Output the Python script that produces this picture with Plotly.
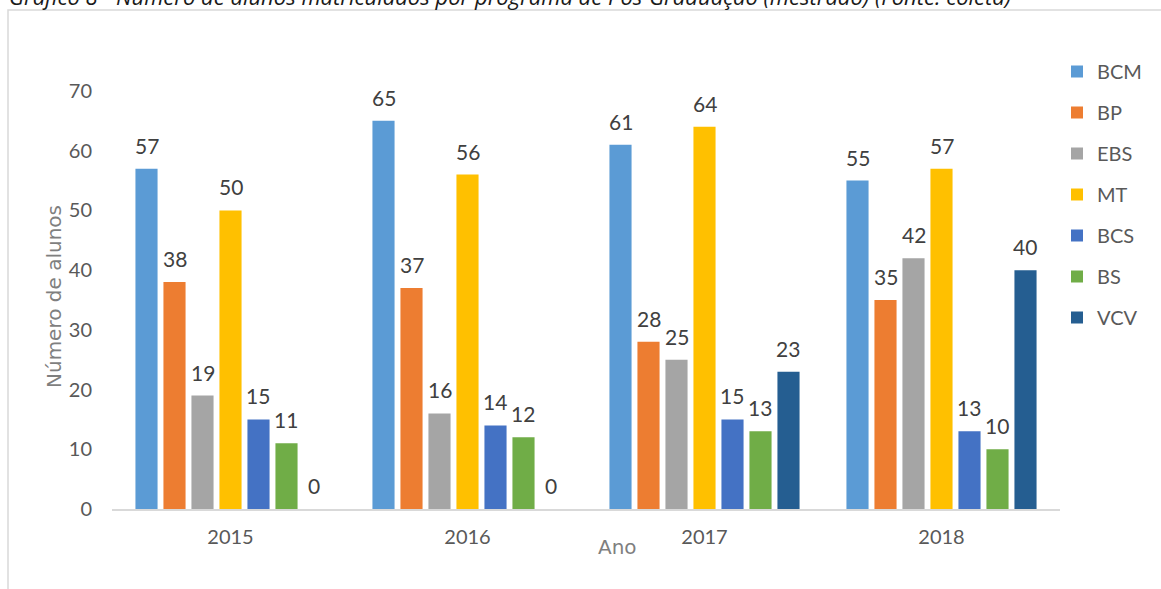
import plotly.graph_objects as go

years = ["2015", "2016", "2017", "2018"]
programs = ["BCM", "BP", "EBS", "MT", "BCS", "BS", "VCV"]
bcm = [57, 65, 61, 55]
bp = [38, 37, 28, 35]
ebs = [19, 16, 25, 42]
mt = [50, 56, 64, 57]
bcs = [15, 14, 15, 13]
bs = [11, 12, 13, 10]
vcv = [0, 0, 23, 40]
y_ticks = [0, 10, 20, 30, 40, 50, 60, 70]

series = [bcm, bp, ebs, mt, bcs, bs, vcv]
colors = ["#5B9BD5", "#ED7D31", "#A5A5A5", "#FFC000", "#4472C4", "#70AD47", "#255E91"]

W, H = 1161, 589
L, R, T, B = 112, 101, 91, 80
pw, ph = W - L - R, H - T - B
BARGAP = 0.173
BARGROUPGAP = 0.21

def px_x(p):
    return (p - L) / pw

def px_y(p):
    return (H - B - p) / ph

# width of one bar slot in pixels (derived from the layout)
slot = pw / len(years) * (1 - BARGAP) / len(programs)

fig = go.Figure()
annotations = []
n = len(programs)
for i, (name, vals, col) in enumerate(zip(programs, series, colors)):
    fig.add_trace(go.Bar(
        x=years, y=vals, name=name, legendgroup=name,
        marker=dict(color=col, line=dict(width=0)),
        hoverinfo="x+y+name",
    ))
    for j, v in enumerate(vals):
        annotations.append(dict(
            text=str(v), xref="x", yref="y", x=j, y=v,
            xshift=(i - (n - 1) / 2) * slot, yshift=9,
            xanchor="center", yanchor="bottom", showarrow=False,
            font=dict(family="Lato", size=21, color="#404040"),
        ))

annotations += [
    dict(text="Gráfico 8 - Número de alunos matriculados por programa de Pós-Graduação (mestrado) (Fonte: coleta)",
         xref="paper", yref="paper", x=px_x(7), y=px_y(13), xanchor="left", yanchor="bottom",
         showarrow=False, font=dict(family="Open Sans", size=22, color="#1a1a1a", style="italic")),
    dict(text="Número de alunos", xref="paper", yref="paper", x=px_x(54), y=px_y(297),
         xanchor="center", yanchor="middle", textangle=-90, showarrow=False,
         font=dict(family="DejaVu Sans", size=20, color="#7F7F7F")),
    dict(text="Ano", xref="paper", yref="paper", x=px_x(617), y=px_y(547),
         xanchor="center", yanchor="middle", showarrow=False,
         font=dict(family="DejaVu Sans", size=20, color="#7F7F7F")),
]

fig.update_layout(
    width=W, height=H,
    margin=dict(l=L, r=R, t=T, b=B),
    paper_bgcolor="white", plot_bgcolor="white",
    barmode="group", bargap=BARGAP, bargroupgap=BARGROUPGAP,
    showlegend=True,
    legend=dict(
        x=px_x(1057), y=px_y(52), xanchor="left", yanchor="top",
        font=dict(family="Lato", size=20, color="#595959"),
        tracegroupgap=12, bgcolor="rgba(0,0,0,0)",
    ),
    xaxis=dict(
        type="category", range=[-0.5, 3.5],
        showline=True, linecolor="#D9D9D9", linewidth=2,
        showgrid=False, ticks="",
        tickfont=dict(family="Lato", size=20, color="#595959"),
        ticklabelstandoff=9,
    ),
    yaxis=dict(
        range=[0, 70], tickvals=y_ticks,
        showline=False, showgrid=False, zeroline=False, ticks="",
        tickfont=dict(family="Lato", size=20, color="#595959"),
        ticklabelstandoff=19,
    ),
    shapes=[dict(
        type="rect", xref="paper", yref="paper", layer="below",
        x0=px_x(8), x1=px_x(1175), y0=px_y(10), y1=px_y(610),
        line=dict(color="#D9D9D9", width=1.5), fillcolor="rgba(0,0,0,0)",
    )],
    annotations=annotations,
)

fig.write_html("out.html", config={"displayModeBar": False},
               post_script="document.body.style.margin='0px';document.body.style.overflow='hidden';")
